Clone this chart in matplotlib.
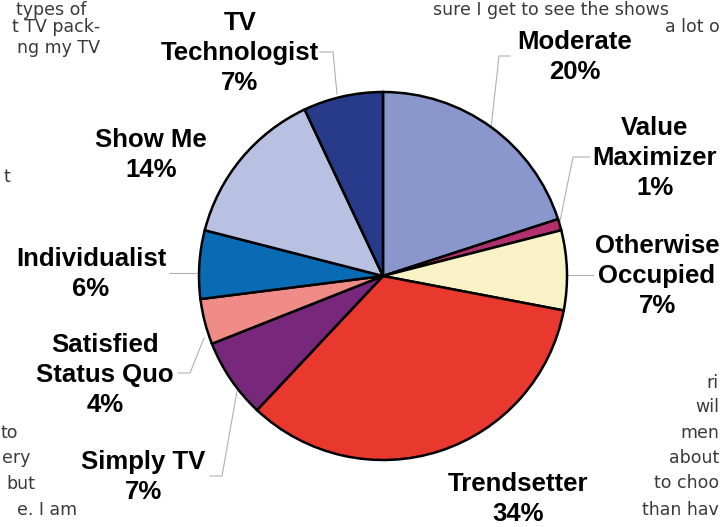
import matplotlib
matplotlib.use("Agg")
import matplotlib.pyplot as plt

# ---- data ----
segments = ["Moderate", "Value\nMaximizer", "Otherwise\nOccupied", "Trendsetter",
            "Simply TV", "Satisfied\nStatus Quo", "Individualist", "Show Me",
            "TV\nTechnologist"]
shares = [20, 1, 7, 34, 7, 4, 6, 14, 7]
colors = ["#8A97CD", "#B2306E", "#F8F2C6", "#E9382E", "#77287A",
          "#F08C87", "#0A6BB5", "#B9C1E2", "#283A8A"]

W, H = 722, 527
fig = plt.figure(figsize=(7.22, 5.27), dpi=100)
ax = fig.add_axes([0, 0, 1, 1])

def Y(y):
    return H - y

cx, cy, r = 383, 276, 184
ax.pie(shares, colors=colors, startangle=90, counterclock=False,
       center=(cx, Y(cy)), radius=r, frame=True,
       wedgeprops=dict(edgecolor="black", linewidth=1.8))
ax.set_xlim(0, W)
ax.set_ylim(0, H)
ax.set_aspect("equal")
ax.axis("off")

lab_font = dict(family="Liberation Sans", fontweight="bold", fontsize=18.5,
                color="black", ha="center", va="center", linespacing=1.33)

# label placements (center x, center y of text block) in pixel coords
label_pos = {
    "Moderate": (575, 57),
    "Value\nMaximizer": (655, 158),
    "Otherwise\nOccupied": (657, 276),
    "Trendsetter": (518, 499),
    "Simply TV": (143, 477),
    "Satisfied\nStatus Quo": (105, 375),
    "Individualist": (91, 274),
    "Show Me": (151, 155),
    "TV\nTechnologist": (240, 53),
}
for name, val in zip(segments, shares):
    x, y = label_pos[name]
    ax.text(x, Y(y), f"{name}\n{val}%", **lab_font)

# leader lines
leaders = [
    [(510, 56), (499, 56), (491, 128)],
    [(320, 52), (333, 52), (337, 94)],
    [(590, 157), (573, 157), (559, 226)],
    [(593, 275), (567, 275)],
    [(170, 273), (199, 273)],
    [(178, 373), (190, 373), (204, 338)],
    [(210, 476), (222, 476), (237, 391)],
]
for pts in leaders:
    xs = [p[0] for p in pts]
    ys = [Y(p[1]) for p in pts]
    ax.plot(xs, ys, color="#B0B0B0", linewidth=0.8, zorder=0)

# background document text fragments (visible parts only)
bg = dict(family="DejaVu Sans", fontsize=12.5, color="#3A3A3A", va="center")
left_frag = [("types of", 86, 10), ("t TV pack-", 100, 27),
             ("ng my TV", 100, 48), ("t", 10, 177),
             ("to", 18, 433), ("ery", 30, 458), ("but", 35, 484),
             ("e. I am", 77, 510)]
for t, x, y in left_frag:
    ax.text(x, Y(y), t, ha="right", **bg)
right_frag = [("sure I get to see the shows", 433, 10), ("a lot o", 665, 27),
              ("ri", 719, 383), ("wil", 719, 407), ("men", 719, 433),
              ("about", 719, 458), ("to choo", 719, 483), ("than hav", 719, 510)]
for t, x, y in right_frag:
    ax.text(x, Y(y), t, ha="right" if x == 719 else "left", **bg)

fig.savefig("out.png", dpi=100)
